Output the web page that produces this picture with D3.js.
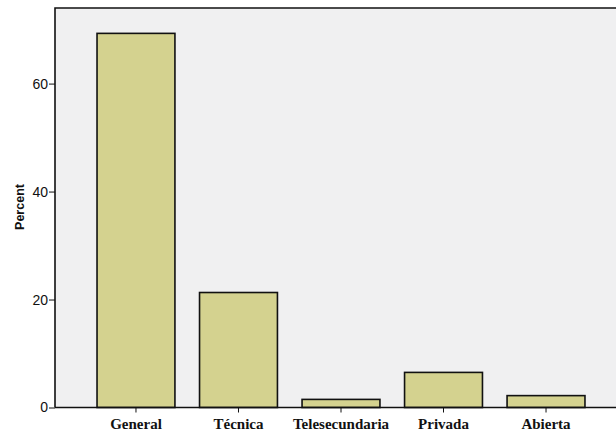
<!DOCTYPE html>
<html><head><meta charset="utf-8">
<script src="https://cdn.jsdelivr.net/npm/d3@7"></script>
<style>body{margin:0;background:#fff;}svg{display:block;}</style>
</head><body>
<svg id="c" width="616" height="437"></svg>
<script>
const categories = ["General", "Técnica", "Telesecundaria", "Privada", "Abierta"];
const percents = [69.3, 21.3, 1.5, 6.5, 2.2];
const yTicks = [0, 20, 40, 60];

(function () {
const svg = d3.select("#c");
const pl = 55, pr = 627, pt = 8, pb = 407.5;
const x = d3.scaleBand().domain(categories).range([pl, pr]).paddingInner(0.24).paddingOuter(0.41);
const y = d3.scaleLinear().domain([0, 74]).range([pb, pt]);

svg.append("rect").attr("x", pl).attr("y", pt).attr("width", pr - pl).attr("height", pb - pt).attr("fill", "#f0f0f1");

svg.selectAll("rect.bar").data(percents).join("rect").attr("class", "bar")
  .attr("x", (d, i) => x(categories[i]))
  .attr("y", d => y(d))
  .attr("width", x.bandwidth())
  .attr("height", d => y(0) - y(d))
  .attr("fill", "#d4d28f").attr("stroke", "#111").attr("stroke-width", 1.6);

svg.append("path").attr("d", `M${pl},${pb}V${pt}H${pr}`).attr("fill", "none").attr("stroke", "#111").attr("stroke-width", 1.6);

const yAxis = svg.append("g").attr("transform", `translate(${pl},0)`)
  .call(d3.axisLeft(y).tickValues(yTicks).tickSize(6).tickPadding(1));
yAxis.select(".domain").remove();
yAxis.selectAll("line").attr("stroke", "#111");
yAxis.selectAll("text").attr("font-family", "Liberation Sans, Arial, sans-serif").attr("font-size", 14).attr("fill", "#111");

const xAxis = svg.append("g").attr("transform", `translate(0,${pb})`)
  .call(d3.axisBottom(x).tickSize(5).tickPadding(6));
xAxis.select(".domain").attr("d", `M${pl},0H${pr}`).attr("stroke", "#111").attr("stroke-width", 1.6);
xAxis.selectAll("line").attr("stroke", "#111");
xAxis.selectAll("text").attr("font-family", "Liberation Serif, Times New Roman, serif").attr("font-weight", "bold").attr("font-size", 15).attr("fill", "#111");

svg.append("text").attr("transform", `translate(24,207) rotate(-90)`)
  .attr("text-anchor", "middle").attr("font-family", "Liberation Sans, Arial, sans-serif")
  .attr("font-weight", "bold").attr("font-size", 12.5).attr("fill", "#111").text("Percent");
})();
</script>
</body></html>
